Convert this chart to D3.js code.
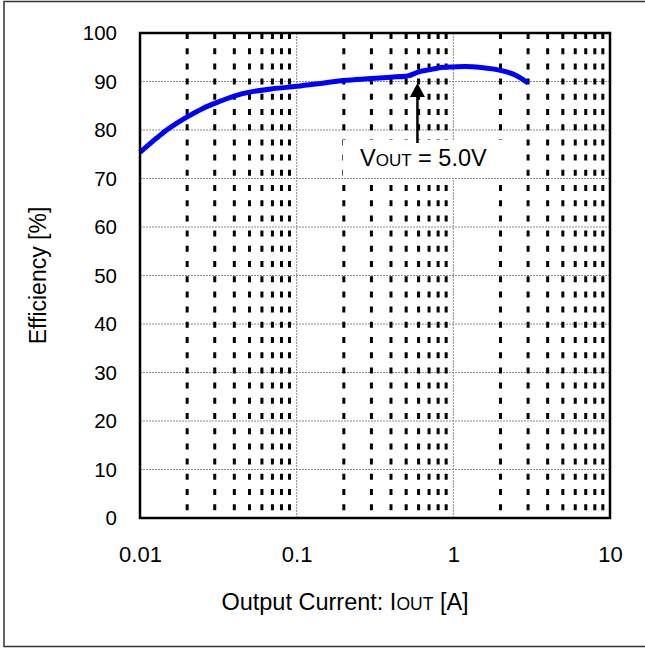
<!DOCTYPE html>
<html>
<head>
<meta charset="utf-8">
<script src="https://cdn.jsdelivr.net/npm/d3@7"></script>
<style>
  html, body { margin: 0; padding: 0; background: #fff; }
  svg { display: block; }
  text { font-family: "Liberation Sans", Arial, sans-serif; fill: #000; }
</style>
</head>
<body>
<svg id="chart" width="645" height="648"></svg>
<script>
// ---- data ----
const currentA = [0.01, 0.012, 0.014, 0.017, 0.02, 0.025, 0.03, 0.04, 0.05, 0.07, 0.1, 0.15, 0.2, 0.3, 0.4, 0.5, 0.52, 0.56, 0.6, 0.7, 0.8, 1.0, 1.2, 1.5, 2.0, 2.5, 3.0];
const efficiency = [75.4, 77.6, 79.4, 81.3, 82.7, 84.4, 85.5, 87.0, 87.8, 88.5, 89.0, 89.7, 90.2, 90.6, 90.9, 91.1, 91.2, 91.6, 92.0, 92.4, 92.8, 93.0, 93.1, 92.9, 92.3, 91.3, 89.7];
const xTickValues = [0.01, 0.1, 1, 10];
const xTickLabels = ["0.01", "0.1", "1", "10"];
const yTickValues = [0, 10, 20, 30, 40, 50, 60, 70, 80, 90, 100];
const minorMultipliers = [2, 3, 4, 5, 6, 7, 8, 9];
const decades = [0.01, 0.1, 1];
const annotationCurrent = 0.59;

// ---- layout ----
const svg = d3.select("#chart");
const L = 140, R = 610, T = 33, B = 518;
const x = d3.scaleLog().domain([0.01, 10]).range([L, R]);
const y = d3.scaleLinear().domain([0, 100]).range([B, T]);

// outer chart border
svg.append("rect").attr("x", 4).attr("y", 1.5).attr("width", 700).attr("height", 645)
  .attr("fill", "#fff").attr("stroke", "#333").attr("stroke-width", 1.5);

const g = svg.append("g");

// horizontal gridlines
g.selectAll(".hgrid").data(yTickValues.slice(1, -1)).join("line")
  .attr("x1", L).attr("x2", R).attr("y1", d => y(d)).attr("y2", d => y(d))
  .attr("stroke", "#8a8a8a").attr("stroke-width", 1).attr("stroke-dasharray", "2,1");

// major vertical gridlines
g.selectAll(".vgrid").data(xTickValues.slice(1, -1)).join("line")
  .attr("x1", d => x(d)).attr("x2", d => x(d)).attr("y1", T).attr("y2", B)
  .attr("stroke", "#8a8a8a").attr("stroke-width", 1).attr("stroke-dasharray", "2,1");

// minor vertical gridlines (thick black dashes)
const minorVals = [];
decades.forEach(dv => minorMultipliers.forEach(m => minorVals.push(dv * m)));
g.selectAll(".mgrid").data(minorVals).join("line")
  .attr("x1", d => x(d)).attr("x2", d => x(d)).attr("y1", T).attr("y2", B)
  .attr("stroke", "#000").attr("stroke-width", 3).attr("stroke-dasharray", "6,9.2");

// annotation white box
g.append("rect").attr("x", 343).attr("y", 140).attr("width", 167).attr("height", 38).attr("fill", "#fff");

// efficiency curve
const line = d3.line().x((d, i) => x(currentA[i])).y(d => y(d)).curve(d3.curveMonotoneX);
g.append("path").datum(efficiency).attr("d", line)
  .attr("fill", "none").attr("stroke", "#0000ff").attr("stroke-width", 5).attr("stroke-linecap", "butt");

// arrow
const ax = x(annotationCurrent);
g.append("line").attr("x1", ax).attr("x2", ax).attr("y1", 143).attr("y2", 96)
  .attr("stroke", "#000").attr("stroke-width", 2.5);
g.append("path").attr("d", `M${ax},83 L${ax - 7.5},97 L${ax + 7.5},97 Z`).attr("fill", "#000");

// annotation text
const at = g.append("text").attr("x", 360).attr("y", 166).style("font-size", "23.5px");
at.append("tspan").text("V");
at.append("tspan").style("font-size", "17px").text("OUT");
at.append("tspan").text(" = 5.0V");

// plot border
g.append("rect").attr("x", L).attr("y", T).attr("width", R - L).attr("height", B - T)
  .attr("fill", "none").attr("stroke", "#000").attr("stroke-width", 2.5);

// axes
const yAxis = d3.axisLeft(y).tickValues(yTickValues).tickSize(0).tickPadding(23).tickFormat(d3.format("d"));
const ya = svg.append("g").attr("transform", `translate(${L},0)`).call(yAxis);
ya.select(".domain").remove();
ya.selectAll("text").style("font-size", "20.5px").style("font-family", "Liberation Sans, Arial, sans-serif").attr("fill", "#000");

const xAxis = d3.axisBottom(x).tickValues(xTickValues).tickSize(0).tickPadding(28)
  .tickFormat((d, i) => xTickLabels[i]);
const xa = svg.append("g").attr("transform", `translate(0,${B})`).call(xAxis);
xa.select(".domain").remove();
xa.selectAll("text").style("font-size", "22px").style("font-family", "Liberation Sans, Arial, sans-serif").attr("fill", "#000");

// axis titles
const xt = svg.append("text").attr("x", 345).attr("y", 610).attr("text-anchor", "middle").style("font-size", "23.5px");
xt.append("tspan").text("Output Current: I");
xt.append("tspan").style("font-size", "17.5px").text("OUT");
xt.append("tspan").text(" [A]");

svg.append("text").attr("transform", `translate(46,${(T + B) / 2}) rotate(-90)`)
  .attr("text-anchor", "middle").style("font-size", "23px").text("Efficiency [%]");
</script>
</body>
</html>
